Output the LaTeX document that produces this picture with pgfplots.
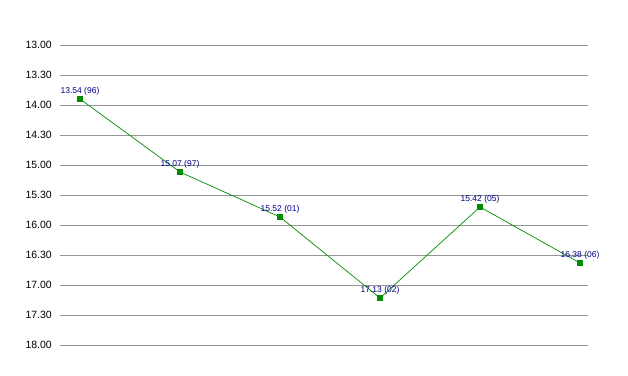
\documentclass[border=0pt]{standalone}
\usepackage{fontspec}
\setmainfont{Liberation Sans}
\usepackage{pgfplots}
\pgfplotsset{compat=1.18}
\definecolor{lgreen}{RGB}{0,140,0}
\definecolor{lblue}{RGB}{0,0,140}
\definecolor{lgrid}{RGB}{150,150,150}
\begin{document}
\begin{tikzpicture}
\useasboundingbox (0,0) rectangle (628pt,375pt);
\begin{axis}[
  at={(60pt,30pt)}, anchor=south west,
  scale only axis, width=528pt, height=300pt,
  xmin=-0.2, xmax=5.08,
  ymin=13, ymax=18, y dir=reverse,
  ytick={13,13.5,14,14.5,15,15.5,16,16.5,17,17.5,18},
  yticklabels={13.00,13.30,14.00,14.30,15.00,15.30,16.00,16.30,17.00,17.30,18.00},
  xtick=\empty,
  ymajorgrids, grid style={lgrid, line width=0.8pt},
  axis line style={draw=none},
  major tick length=0pt,
  yticklabel style={font=\fontsize{10.5}{12}\selectfont, inner sep=0pt, anchor=east, xshift=-8pt},
  clip=false,
]
\addplot[color=lgreen, line width=0.7pt, mark=square*, mark size=2.5pt,
  mark options={fill=lgreen, draw=lgreen},
  nodes near coords, point meta=explicit symbolic,
  every node near coord/.style={font=\fontsize{8.5}{10}\selectfont, text=lblue, inner sep=0pt, anchor=base, yshift=6pt}]
  table[col sep=comma, meta=label] {
x,y,label
0,13.9,13.54 (96)
1,15.1167,15.07 (97)
2,15.8667,15.52 (01)
3,17.2167,17.13 (02)
4,15.7,15.42 (05)
5,16.6333,16.38 (06)
};
\end{axis}
\end{tikzpicture}
\end{document}
